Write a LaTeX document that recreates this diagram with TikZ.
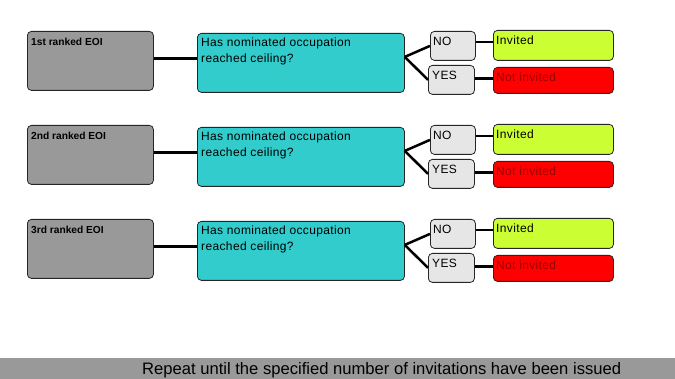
\documentclass[tikz,border=0pt]{standalone}
\usepackage{fontspec}
\setmainfont{Liberation Sans}
\newfontfamily\spfont[LetterSpace=3]{Liberation Sans}
\definecolor{boxgray}{HTML}{999999}
\definecolor{cyanbox}{HTML}{33CCCC}
\definecolor{optgray}{HTML}{E6E6E6}
\definecolor{limebox}{HTML}{CCFF33}
\definecolor{redbox}{HTML}{FF0000}
\definecolor{darkredtext}{HTML}{990000}
\begin{document}
\begin{tikzpicture}[x=1pt,y=-1pt,
  box/.style={draw=black!85, line width=0.8pt, rounded corners=4pt, anchor=north west, inner sep=0pt},
  eoi/.style={box, fill=boxgray, minimum width=126pt, minimum height=59pt},
  quest/.style={box, fill=cyanbox, minimum width=207pt, minimum height=59pt},
  opt/.style={box, fill=optgray, minimum width=45pt, minimum height=29pt},
  optyes/.style={box, fill=optgray, minimum width=46pt, minimum height=29pt},
  inv/.style={box, fill=limebox, minimum width=120pt, minimum height=30pt},
  notinv/.style={box, fill=redbox, minimum width=120pt, minimum height=26pt},
  conn/.style={line width=2.5pt, black},
  txt/.style={anchor=base west, inner sep=0pt, font=\spfont\fontsize{12}{16}\selectfont},
  btxt/.style={anchor=base west, inner sep=0pt, font=\bfseries\fontsize{10.2}{13}\selectfont},
  qtxt/.style={anchor=north west, inner sep=0pt, align=left, font=\spfont\fontsize{12}{16}\selectfont}]
\useasboundingbox[fill=white] (0,0) rectangle (675,379);
\foreach \i/\o/\lab in {1/0/1st, 2/94/2nd, 3/188/3rd}{
  \node[eoi] (g\i) at (27,31+\o) {};
  \node[quest] (q\i) at (197,33+\o) {};
  \node[opt] (no\i) at (430,31+\o) {};
  \node[optyes] (yes\i) at (428,65+\o) {};
  \node[inv] (inv\i) at (493,30+\o) {};
  \node[notinv] (ni\i) at (493,67+\o) {};
  \node[btxt] (gt\i) at (31,46+\o) {\lab\ ranked EOI};
  \node[qtxt] (qt\i) at (201,38+\o) {Has nominated occupation\\reached ceiling?};
  \node[txt] (not\i) at (433,46+\o) {NO};
  \node[txt] (yest\i) at (432,80+\o) {YES};
  \node[txt] (invt\i) at (496,45+\o) {Invited};
  \node[txt, text=darkredtext] (nit\i) at (496,82+\o) {Not invited};
  \draw[conn] ([yshift=2.5pt]g\i.east) -- ([yshift=2.5pt]g\i.east -| q\i.west);
  \coordinate (f\i) at ([yshift=6pt]q\i.east);
  \draw[conn] (f\i) -- (no\i.west);
  \draw[conn] (f\i) -- (yes\i.west);
  \draw[conn] ([yshift=4pt]no\i.east) -- ([yshift=4pt]no\i.east -| inv\i.west);
  \draw[conn] ([yshift=1.5pt]yes\i.east) -- ([yshift=1.5pt]yes\i.east -| ni\i.west);
}
\node[fill=boxgray, anchor=north west, inner sep=0pt, minimum width=675pt, minimum height=21pt] (bar) at (0,358) {};
\node[anchor=base west, inner sep=0pt, font=\fontsize{16.6}{19}\selectfont] (bartxt) at (142,374) {Repeat until the specified number of invitations have been issued};
\end{tikzpicture}
\end{document}
